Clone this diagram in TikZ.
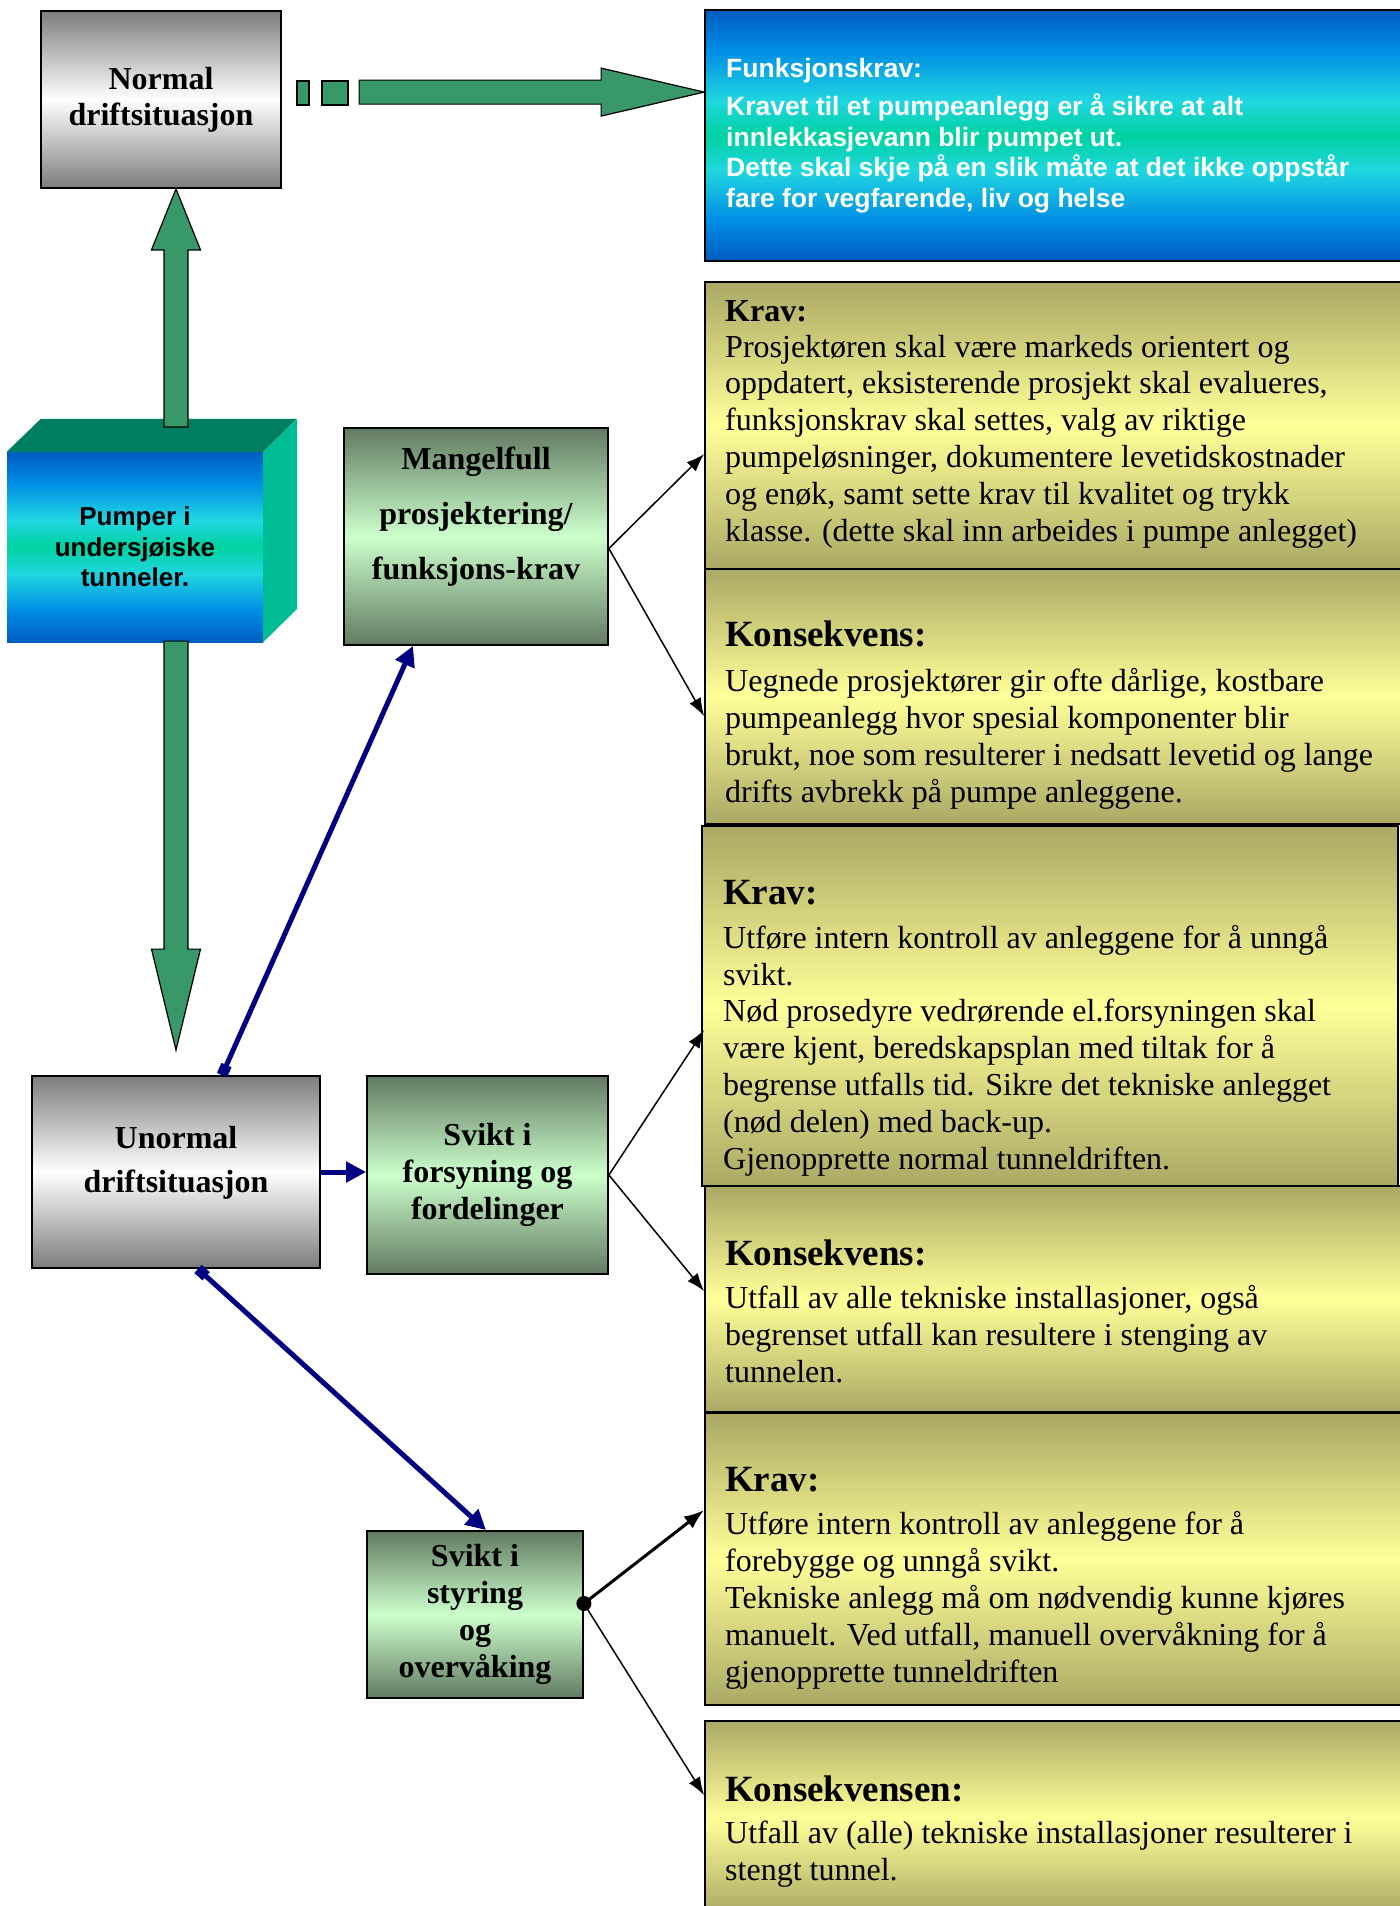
\documentclass[tikz,border=0pt]{standalone}
\usepackage{fontspec}
\setmainfont{Liberation Serif}
\setsansfont{Liberation Sans}
\usetikzlibrary{shapes,arrows,positioning,calc,arrows.meta}

\definecolor{boxgray}{RGB}{125,125,125}
\definecolor{darkgreen}{RGB}{98,122,98}
\definecolor{lightgreen}{RGB}{204,255,204}
\definecolor{khaki}{RGB}{170,168,100}
\definecolor{paleyellow}{RGB}{255,255,153}
\definecolor{arrowgreen}{RGB}{56,152,104}
\definecolor{cubetop}{RGB}{0,126,98}
\definecolor{cubeside}{RGB}{0,188,148}
\definecolor{navyline}{RGB}{0,0,128}
\definecolor{deepblue}{RGB}{0,92,192}
\definecolor{midblue}{RGB}{0,140,228}
\definecolor{cyanish}{RGB}{32,214,224}
\definecolor{tealish}{RGB}{0,210,160}

\pgfdeclareverticalshading{bluegrad}{100bp}{color(0bp)=(deepblue); color(25bp)=(deepblue);
  color(33bp)=(midblue); color(43bp)=(cyanish); color(50bp)=(tealish); color(57bp)=(cyanish);
  color(67bp)=(midblue); color(75bp)=(deepblue); color(100bp)=(deepblue)}

\newcommand{\headfont}{\bfseries\fontsize{37}{40}\selectfont}

\tikzset{
  graybox/.style={draw, line width=1.8pt, top color=boxgray, bottom color=boxgray, middle color=white,
    align=center, inner sep=0pt, font=\bfseries\fontsize{32}{36}\selectfont},
  greenbox/.style={draw, line width=1.8pt, top color=darkgreen, bottom color=darkgreen, middle color=lightgreen,
    align=center, inner sep=0pt, font=\bfseries\fontsize{32}{37}\selectfont},
  yellowbox/.style={draw, line width=1.8pt, top color=khaki, bottom color=khaki, middle color=paleyellow, inner sep=0pt},
  bluebox/.style={draw, line width=1.8pt, shade, shading=bluegrad, inner sep=0pt},
  cubefront/.style={shade, shading=bluegrad, inner sep=0pt, align=center,
    font=\sffamily\bfseries\fontsize{26}{30.5}\selectfont},
  % base = baseline of the last line
  bodytext/.style={anchor=base west, align=left, inner sep=0pt, font=\fontsize{32}{36.8}\selectfont},
  whitetext/.style={anchor=base west, align=left, inner sep=0pt, text=white,
    font=\sffamily\bfseries\fontsize{26.5}{30.5}\selectfont},
  blockarrow/.style={draw, line width=1.2pt, fill=arrowgreen},
  navyarrow/.style={draw=navyline, line width=5pt, -{Triangle[length=20pt,width=20pt]}},
  thinarrow/.style={line width=1.5pt, -{Latex[length=18pt,width=13pt]}},
}

\begin{document}
\begin{tikzpicture}[x=1pt,y=-1pt]
\useasboundingbox (0,0) rectangle (1400,1906);
\clip (0,0) rectangle (1400,1906);

% right column
\node[bluebox, minimum width=698pt, minimum height=251pt] (funk) at (1054,135.5) {};
\node[whitetext] (funktext) at (726,207) {Funksjonskrav:\\[7.5pt]
  Kravet til et pumpeanlegg er å sikre at alt\\
  innlekkasjevann blir pumpet ut.\\
  Dette skal skje på en slik måte at det ikke oppstår\\
  fare for vegfarende, liv og helse};

\node[yellowbox, minimum width=698pt, minimum height=287pt] (krav1) at (1054,425.5) {};
\node[yellowbox, minimum width=698pt, minimum height=255pt] (kons1) at (1054,696.5) {};
\node[yellowbox, minimum width=696pt, minimum height=360pt] (krav2) at (1050,1006) {};
\node[yellowbox, minimum width=698pt, minimum height=226pt] (kons2) at (1054,1299) {};
\node[yellowbox, minimum width=698pt, minimum height=292pt] (krav3) at (1054,1559) {};
\node[yellowbox, minimum width=698pt, minimum height=194pt] (kons3) at (1054,1818) {};

\node[bodytext] (krav1text) at (725,541) {{\bfseries Krav:}\\[-1pt]
  Prosjektøren skal være markeds orientert og\\
  oppdatert, eksisterende prosjekt skal evalueres,\\
  funksjonskrav skal settes, valg av riktige\\
  pumpeløsninger, dokumentere levetidskostnader\\
  og enøk, samt sette krav til kvalitet og trykk\\
  klasse. (dette skal inn arbeides i pumpe anlegget)};
\node[bodytext] (kons1text) at (725,802) {{\headfont Konsekvens:}\\[8pt]
  Uegnede prosjektører gir ofte dårlige, kostbare\\
  pumpeanlegg hvor spesial komponenter blir\\
  brukt, noe som resulterer i nedsatt levetid og lange\\
  drifts avbrekk på pumpe anleggene.};
\node[bodytext] (krav2text) at (723,1169) {{\headfont Krav:}\\[7pt]
  Utføre intern kontroll av anleggene for å unngå\\
  svikt.\\
  Nød prosedyre vedrørende el.forsyningen skal\\
  være kjent, beredskapsplan med tiltak for å\\
  begrense utfalls tid. Sikre det tekniske anlegget\\
  (nød delen) med back-up.\\
  Gjenopprette normal tunneldriften.};
\node[bodytext] (kons2text) at (725,1382) {{\headfont Konsekvens:}\\[6pt]
  Utfall av alle tekniske installasjoner, også\\
  begrenset utfall kan resultere i stenging av\\
  tunnelen.};
\node[bodytext] (krav3text) at (725,1682) {{\headfont Krav:}\\[7pt]
  Utføre intern kontroll av anleggene for å\\
  forebygge og unngå svikt.\\
  Tekniske anlegg må om nødvendig kunne kjøres\\
  manuelt. Ved utfall, manuell overvåkning for å\\
  gjenopprette tunneldriften};
\node[bodytext] (kons3text) at (725,1880) {{\headfont Konsekvensen:}\\[5pt]
  Utfall av (alle) tekniske installasjoner resulterer i\\
  stengt tunnel.};

% left column
\node[graybox, minimum width=240pt, minimum height=177pt] (normal) at (161,99.5) {Normal\\driftsituasjon};
\node[graybox, minimum width=288pt, minimum height=192pt] (unormal) at (176,1172) {};
\node[font=\bfseries\fontsize{32}{44}\selectfont, align=center] (unormaltext) at ([yshift=9pt]unormal.center) {Unormal\\driftsituasjon};

\node[cubefront, minimum width=256pt, minimum height=190pt] (cube) at (135,547) {Pumper i\\undersjøiske\\tunneler.};
\filldraw[fill=cubetop, draw=none] (cube.north west) -- ++(34,-33) -- ++(256,0) -- (cube.north east) -- cycle;
\filldraw[fill=cubeside, draw=none] (cube.north east) -- ++(34,-33) -- ++(0,190) -- (cube.south east) -- cycle;

% middle column
\node[greenbox, minimum width=264pt, minimum height=217pt] (mangel) at (476,536.5) {};
\node[font=\bfseries\fontsize{32}{55}\selectfont, align=center] (mangeltext) at ([yshift=20pt]mangel.center)
  {Mangelfull\\prosjektering/\\funksjons-krav};
\node[greenbox, minimum width=241pt, minimum height=198pt] (forsyn) at (487.5,1175) {Svikt i\\forsyning og\\fordelinger};
\node[greenbox, minimum width=216pt, minimum height=167pt] (styring) at (475,1614.5) {Svikt i\\styring\\og\\overvåking};

% green block arrows
\coordinate (uptip) at ($(normal.south)+(15,0)$);
\filldraw[blockarrow] (uptip) -- ++(24.5,61) -- ++(-12.5,0) -- ++(0,177) -- ++(-24,0) -- ++(0,-177) -- ++(-12.5,0) -- cycle;
\coordinate (downtip) at ($(unormal.north)+(0,-25)$);
\filldraw[blockarrow] (downtip) -- ++(24.5,-101) -- ++(-12.5,0) -- ++(0,-308) -- ++(-24,0) -- ++(0,308) -- ++(-12.5,0) -- cycle;
\coordinate (righttip) at ($(funk.north west)+(0,83)$);
\filldraw[blockarrow] (righttip) -- ++(-103,-24) -- ++(0,12) -- ++(-242,0) -- ++(0,24) -- ++(242,0) -- ++(0,12) -- cycle;
\filldraw[blockarrow] (297,81) rectangle (309,105);
\filldraw[blockarrow] (322,81) rectangle (348,105);

% navy connectors
\draw[navyarrow, {Square[length=11pt,width=11pt]}-{Triangle[length=20pt,width=20pt]}]
  ($(unormal.north)+(46,0)$) -- ($(mangel.south)+(-63,0)$);
\draw[navyarrow] (unormal.east) -- (unormal.east -| forsyn.west);
\draw[navyarrow, {Square[length=11pt,width=11pt]}-{Triangle[length=20pt,width=20pt]}]
  ($(unormal.south)+(22,0)$) -- ($(styring.north)+(11,0)$);

% black connectors
\coordinate (mangelout) at ($(mangel.east)+(0,12)$);
\draw[thinarrow] (mangelout) -- ($(krav1.north west)+(0,173)$);
\draw[thinarrow] (mangelout) -- ($(kons1.north west)+(0,148)$);
\draw[thinarrow] (forsyn.east) -- ($(krav2.north west)+(3,205)$);
\draw[thinarrow] (forsyn.east) -- ($(kons2.north west)+(0,106)$);
\coordinate (styrout) at ($(styring.east)+(0,-11)$);
\draw[line width=3pt, -{Latex[length=20pt,width=15pt]}] (styrout) -- ($(krav3.north west)+(0,98)$);
\draw[thinarrow] (styrout) -- ($(kons3.north west)+(0,75)$);
\fill (styrout) circle (7.5pt);
\end{tikzpicture}
\end{document}
